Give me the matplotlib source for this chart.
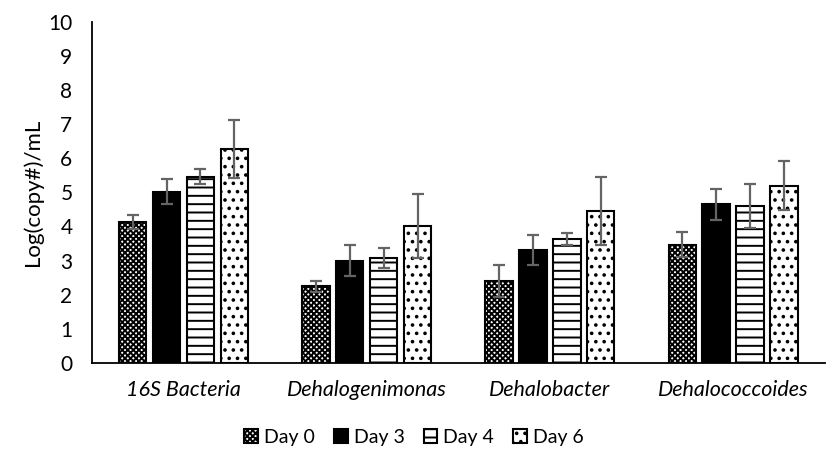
import matplotlib
matplotlib.use("Agg")
import matplotlib.pyplot as plt
import numpy as np

plt.rcParams['font.family'] = ['Lato', 'DejaVu Sans']
plt.rcParams['hatch.linewidth'] = 1.4

categories = ['16S Bacteria', 'Dehalogenimonas', 'Dehalobacter', 'Dehalococcoides']
days = ['Day 0', 'Day 3', 'Day 4', 'Day 6']

day0 = [4.14, 2.24, 2.41, 3.47]
day3 = [5.02, 3.00, 3.31, 4.65]
day4 = [5.46, 3.07, 3.63, 4.60]
day6 = [6.28, 4.02, 4.45, 5.20]

err0 = [0.20, 0.17, 0.47, 0.36]
err3 = [0.37, 0.45, 0.45, 0.45]
err4 = [0.22, 0.30, 0.18, 0.65]
err6 = [0.85, 0.93, 1.00, 0.73]

values = [day0, day3, day4, day6]
errors = [err0, err3, err4, err6]

styles = [
    dict(facecolor='white', hatch='xxxxxx'),
    dict(facecolor='black', hatch=None),
    dict(facecolor='white', hatch='--'),
    dict(facecolor='white', hatch='..'),
]

fig = plt.figure(figsize=(8.28, 4.57), dpi=100)
ax = fig.add_axes([0.111, 0.206, 0.885, 0.746])

x = np.arange(len(categories))
step = 0.185
width = 0.15
handles = []
for i, (vals, errs, st) in enumerate(zip(values, errors, styles)):
    pos = x + (i - 1.5) * step
    b = ax.bar(pos, vals, width, color=st['facecolor'], edgecolor='black',
               linewidth=1.5, hatch=st['hatch'], label=days[i], zorder=2)
    ax.errorbar(pos, vals, yerr=errs, fmt='none', ecolor='#646464',
                elinewidth=1.6, capsize=4, capthick=1.6, zorder=3)
    handles.append(b)

ax.set_xlim(-0.5, len(categories) - 0.5)
ax.set_ylim(0, 10)
ax.set_yticks(range(0, 11))
ax.set_xticks(x)
ax.set_xticklabels(categories, fontstyle='italic', fontsize=15.5)
ax.tick_params(axis='y', length=0, pad=14, labelsize=15)
ax.tick_params(axis='x', length=0, pad=12)
for s in ['top', 'right']:
    ax.spines[s].set_visible(False)
ax.spines['left'].set_linewidth(1.3)
ax.spines['bottom'].set_linewidth(1.3)
ax.set_ylabel('Log(copy#)/mL', fontsize=16, labelpad=4)

fig.legend(handles=handles, labels=days, loc='center', bbox_to_anchor=(0.5, 0.043),
           ncol=4, frameon=False, fontsize=14, handlelength=0.7, handleheight=0.7,
           handletextpad=0.3, columnspacing=1.0)

fig.savefig('out.png', dpi=100)
